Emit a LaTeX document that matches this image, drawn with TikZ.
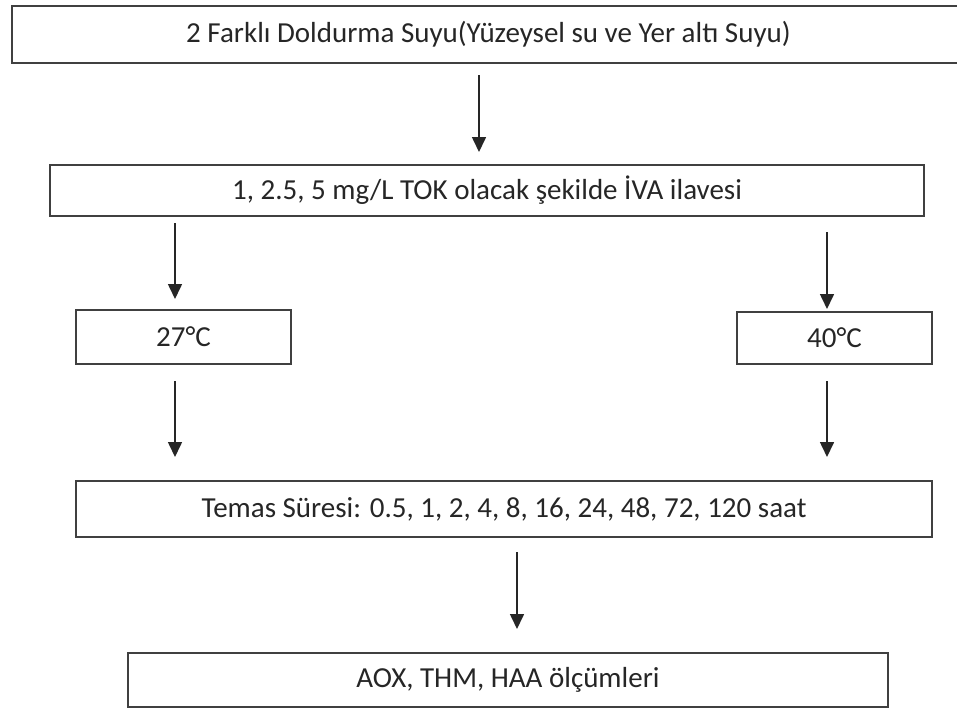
\documentclass[tikz,border=0pt]{standalone}
\usepackage{fontspec}
\setmainfont{Carlito}
\usetikzlibrary{arrows.meta}
\tikzset{
  boxnode/.style={draw=black!75, line width=1.6pt, fill=white, inner sep=0pt, outer sep=0pt,
    text=black!85, font=\fontsize{29}{35}\selectfont, anchor=center},
  arr/.style={draw=black!85, line width=1.6pt, -{Triangle[width=14pt,length=15pt]}},
}
\begin{document}
\begin{tikzpicture}[x=1pt,y=-1pt]
\useasboundingbox (0,0) rectangle (957,709);
\fill[white] (0,0) rectangle (957,709);
% nodes
\node[boxnode, minimum width=953pt, minimum height=57pt] (water) at (488.5,34.5)
  {2 Farklı Doldurma Suyu(Yüzeysel su ve Yer altı Suyu)};
\node[boxnode, minimum width=874pt, minimum height=51pt] (iva) at (487,190.5)
  {1, 2.5, 5 mg/L TOK olacak şekilde İVA ilavesi};
\node[boxnode, minimum width=215pt, minimum height=54pt] (t27) at (183.5,337)
  {27°C};
\node[boxnode, minimum width=195pt, minimum height=52pt] (t40) at (834.5,338)
  {40°C};
\node[boxnode, minimum width=856pt, minimum height=56pt] (temas) at (504,509)
  {Temas Süresi: 0.5, 1, 2, 4, 8, 16, 24, 48, 72, 120 saat};
\node[boxnode, minimum width=760pt, minimum height=54pt] (aox) at (508,680)
  {AOX, THM, HAA ölçümleri};
% arrow x positions
\coordinate (xa) at (479,0);
\coordinate (xl) at (175,0);
\coordinate (xr) at (827,0);
\coordinate (xm) at (517,0);
% connectors
\draw[arr, shorten <=12pt, shorten >=13pt] (water.south -| xa) -- (iva.north -| xa);
\draw[arr, shorten <=7pt, shorten >=11pt] (iva.south -| xl) -- (t27.north -| xl);
\draw[arr, shorten <=16pt, shorten >=3pt] (iva.south -| xr) -- (t40.north -| xr);
\draw[arr, shorten <=17pt, shorten >=24pt] (t27.south -| xl) -- (temas.north -| xl);
\draw[arr, shorten <=17pt, shorten >=24pt] (t40.south -| xr) -- (temas.north -| xr);
\draw[arr, shorten <=15pt, shorten >=24pt] (temas.south -| xm) -- (aox.north -| xm);
\end{tikzpicture}
\end{document}
